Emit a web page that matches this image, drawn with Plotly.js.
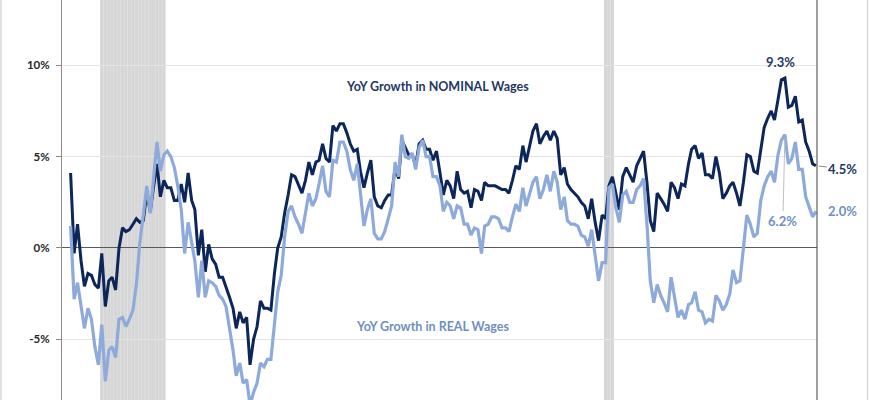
<!DOCTYPE html>
<html>
<head>
<meta charset="utf-8">
<script src="https://cdn.plot.ly/plotly-3.0.1.min.js"></script>
<style>
  html, body { margin: 0; padding: 0; background: #fff; }
  #myDiv { width: 870px; height: 400px; }
</style>
</head>
<body>
<div id="myDiv"></div>
<script>
// monthly YoY growth, first month of the series
var startYear = 2007;
var startMonth = 3;

var nominal = [
  4.1, -0.3, 1.3, -0.7, -2.1, -1.4, -1.5, -2.0, -2.2, -0.3,
  -3.2, -1.8, -1.6, -2.3, 0.0, 1.1, 0.9, 1.0, 1.3, 1.6,
  1.4, 1.5, 3.0, 2.0, 3.3, 4.6, 2.8, 3.7, 3.3, 3.3,
  2.6, 2.6, 3.5, 2.5, 4.1, 2.6, 2.1, -0.4, 1.0, -1.3,
  0.2, -0.6, -0.9, -1.6, -1.6, -2.1, -2.7, -3.3, -4.4, -3.5,
  -4.1, -3.8, -6.4, -5.0, -4.3, -2.9, -3.3, -3.3, -3.4, -1.4,
  0.0, 0.6, 1.9, 2.9, 4.0, 3.9, 3.4, 3.0, 3.7, 4.7,
  4.0, 4.7, 4.8, 5.7, 4.9, 4.7, 6.7, 6.4, 6.8, 6.8,
  6.3, 5.7, 5.3, 5.4, 4.2, 3.3, 4.1, 4.8, 2.8, 2.3,
  2.2, 2.6, 2.9, 2.9, 4.4, 3.8, 5.9, 5.5, 5.1, 5.1,
  4.5, 5.7, 5.9, 5.4, 5.4, 4.8, 5.3, 4.1, 2.9, 3.7,
  3.4, 2.7, 4.2, 3.2, 3.0, 3.1, 2.2, 3.2, 3.1, 2.6,
  3.6, 3.4, 3.4, 3.4, 3.3, 3.2, 3.2, 3.0, 3.7, 4.5,
  4.3, 5.6, 4.7, 5.5, 6.4, 6.8, 5.7, 6.1, 6.4, 5.9,
  6.4, 6.0, 4.0, 4.4, 3.5, 3.2, 3.0, 2.8, 2.5, 2.3,
  1.6, 2.7, 1.4, 0.4, 1.8, 1.6, 3.4, 3.9, 3.0, 2.1,
  3.9, 4.4, 4.0, 3.6, 4.5, 4.9, 5.3, 3.5, 1.5, 0.9,
  3.0, 2.7, 2.4, 2.0, 3.6, 3.3, 2.7, 3.5, 3.4, 4.6,
  5.4, 5.6, 4.9, 5.2, 4.0, 4.0, 3.8, 5.0, 4.1, 2.7,
  3.0, 3.4, 3.6, 3.0, 2.3, 3.6, 5.1, 5.0, 4.2, 4.1,
  5.5, 6.6, 7.1, 7.5, 7.0, 8.2, 9.2, 9.3, 7.7, 7.8,
  8.3, 6.9, 7.0, 5.8, 5.3, 4.6, 4.5
];

var real = [
  1.2, -2.8, -1.9, -3.2, -4.4, -3.3, -3.9, -5.4, -6.4, -4.2,
  -7.3, -5.6, -5.4, -6.0, -3.9, -3.8, -4.3, -3.9, -3.4, -2.0,
  0.3, 1.8, 3.4, 1.9, 3.6, 5.8, 4.2, 5.1, 5.3, 5.0,
  4.4, 3.4, 2.1, -0.3, 1.4, 0.4, -0.7, -2.7, -0.7, -2.7,
  -1.8, -1.9, -2.1, -2.6, -2.8, -3.2, -4.3, -5.6, -7.0, -6.3,
  -7.4, -7.2, -8.6, -7.9, -7.4, -6.3, -6.5, -6.1, -6.1, -4.3,
  -2.4, -1.5, 0.6, 2.0, 2.3, 1.7, 1.3, 0.8, 1.9, 3.0,
  2.3, 2.7, 3.5, 4.5, 3.1, 2.8, 4.8, 4.7, 5.8, 5.8,
  5.3, 4.3, 3.7, 4.6, 3.0, 1.2, 2.1, 2.7, 0.8, 0.5,
  0.5, 0.9, 1.6, 2.3, 4.7, 3.9, 6.2, 5.0, 4.9, 5.2,
  4.3, 5.5, 5.9, 5.0, 5.0, 3.9, 3.9, 3.4, 2.0, 2.5,
  2.3, 1.6, 2.3, 2.2, 1.3, 1.3, 0.7, 1.1, 1.0, -0.3,
  1.2, 1.3, 1.7, 1.7, 1.6, 1.1, 1.1, 0.9, 1.7, 2.4,
  2.0, 3.3, 2.3, 2.9, 3.6, 3.9, 2.7, 3.2, 4.0, 3.1,
  4.2, 3.6, 2.1, 2.8, 1.5, 1.3, 1.3, 1.2, 0.7, 0.6,
  0.1, 1.0, -0.4, -1.8, -0.8, -0.8, 3.3, 3.5, 2.2, 1.4,
  2.9, 3.1, 2.5, 2.5, 3.2, 3.4, 3.8, 1.2, -1.8, -3.0,
  -2.0, -2.6, -3.0, -3.5, -1.6, -2.7, -3.8, -3.4, -3.9, -3.1,
  -3.0, -2.4, -3.4, -3.5, -4.1, -3.9, -4.0, -2.6, -2.9, -3.4,
  -3.1, -2.5, -1.2, -1.9, -1.8, 0.0, 1.8, 1.3, 0.6, 0.8,
  2.6, 3.4, 3.9, 4.2, 3.6, 5.1, 5.9, 6.2, 4.6, 4.9,
  5.8, 4.3, 4.3, 2.8, 2.3, 1.7, 2.0
];

var recessionMonths = [
  '2007-12', '2008-01', '2008-02', '2008-03', '2008-04', '2008-05', '2008-06',
  '2008-07', '2008-08', '2008-09', '2008-10', '2008-11', '2008-12', '2009-01',
  '2009-02', '2009-03', '2009-04', '2009-05', '2009-06',
  '2020-02', '2020-03', '2020-04'
];

var tickValues = [-5, 0, 5, 10];
var tickLabels = ['-5%', '0%', '5%', '10%'];

var peakIndex = nominal.indexOf(Math.max.apply(null, nominal));
var lastIndex = nominal.length - 1;

function monthLabel(k) {
  var m = startMonth - 1 + k;
  var y = startYear + Math.floor(m / 12);
  var mm = (m % 12) + 1;
  return y + '-' + (mm < 10 ? '0' + mm : mm) + '-01';
}

var months = [];
for (var k = 0; k < nominal.length; k++) {
  months.push(monthLabel(k));
}

var DAY = 86400000;
function monthMs(s) {
  var p = s.split('-');
  return Date.UTC(+p[0], +p[1] - 1, 1);
}

var shapes = [];
// recession bands: a pale backing plus one bar per month
var bandGroups = [[recessionMonths[0], '2009-06'], ['2020-02', '2020-04']];
bandGroups.forEach(function (g) {
  shapes.push({
    type: 'rect', xref: 'x', yref: 'paper', layer: 'below',
    x0: monthMs(g[0]) - 15 * DAY, x1: monthMs(g[1]) + 15 * DAY,
    y0: 0, y1: 1, fillcolor: '#e6e6e6', line: {width: 0}
  });
});
recessionMonths.forEach(function (m) {
  shapes.push({
    type: 'rect', xref: 'x', yref: 'paper', layer: 'below',
    x0: monthMs(m) - 13 * DAY, x1: monthMs(m) + 13 * DAY,
    y0: 0, y1: 1, fillcolor: '#d6d6d6', line: {width: 0}
  });
});
// right axis line and outer frame edges
shapes.push({type: 'line', xref: 'paper', yref: 'paper', x0: 1, x1: 1, y0: 0, y1: 1,
  line: {color: '#404040', width: 1}});
shapes.push({type: 'line', xref: 'paper', yref: 'paper', x0: -0.0808, x1: -0.0808, y0: 0, y1: 1,
  line: {color: '#d9d9d9', width: 1.5}});
shapes.push({type: 'line', xref: 'paper', yref: 'paper', x0: 1.0669, x1: 1.0669, y0: 0, y1: 1,
  line: {color: '#d9d9d9', width: 1.5}});

var navy = '#0c2659';
var navyText = '#1f3864';
var lightBlue = '#8eaadb';
var blueText = '#6f8fc2';
var fontFam = 'Lato, "Open Sans", sans-serif';

var traceNominal = {
  x: months, y: nominal, type: 'scatter', mode: 'lines',
  name: 'Nominal', line: {color: navy, width: 3}
};
var traceReal = {
  x: months, y: real, type: 'scatter', mode: 'lines',
  name: 'Real', line: {color: lightBlue, width: 3.2}
};

var layout = {
  width: 870,
  height: 400,
  margin: {l: 62, r: 53, t: 0, b: 0},
  paper_bgcolor: '#fff',
  plot_bgcolor: '#fff',
  showlegend: false,
  font: {family: fontFam, color: '#333'},
  xaxis: {
    type: 'date',
    range: ['2006-12-15', '2025-03-11'],
    showgrid: false,
    zeroline: false,
    showticklabels: false,
    ticks: ''
  },
  yaxis: {
    range: [-8.32, 13.57],
    tickvals: tickValues,
    ticktext: tickLabels,
    tickfont: {family: fontFam, size: 11.5, color: '#262626', weight: 700},
    ticks: 'outside',
    ticklen: 5,
    tickcolor: '#8c8c8c',
    ticklabelstandoff: 4,
    showline: true,
    linecolor: '#8c8c8c',
    linewidth: 1,
    gridcolor: '#e4e4e4',
    gridwidth: 1,
    zeroline: true,
    zerolinecolor: '#595959',
    zerolinewidth: 1
  },
  shapes: shapes,
  annotations: [
    {
      xref: 'paper', yref: 'y', x: 0.4967, y: 8.81,
      text: 'YoY Growth in NOMINAL Wages', showarrow: false,
      font: {family: fontFam, size: 12.5, color: navyText, weight: 700}
    },
    {
      xref: 'paper', yref: 'y', x: 0.491, y: -4.32,
      text: 'YoY Growth in REAL Wages', showarrow: false,
      font: {family: fontFam, size: 12.5, color: blueText, weight: 700}
    },
    {
      x: months[peakIndex], y: nominal[peakIndex],
      text: nominal[peakIndex].toFixed(1) + '%', showarrow: false,
      yanchor: 'bottom', yshift: 6, xshift: -4,
      font: {family: fontFam, size: 13, color: navyText, weight: 700}
    },
    {
      x: months[peakIndex], y: real[peakIndex],
      text: real[peakIndex].toFixed(1) + '%', showarrow: true,
      arrowhead: 0, arrowwidth: 1, arrowcolor: '#bfbfbf',
      ax: -2, ay: 86, standoff: 4,
      font: {family: fontFam, size: 13, color: blueText, weight: 700}
    },
    {
      x: months[lastIndex], y: nominal[lastIndex],
      text: nominal[lastIndex].toFixed(1) + '%', showarrow: true,
      arrowhead: 0, arrowwidth: 1, arrowcolor: '#8c8c8c',
      ax: 27, ay: 3, standoff: 3,
      font: {family: fontFam, size: 13, color: navyText, weight: 700}
    },
    {
      x: months[lastIndex], y: real[lastIndex],
      text: real[lastIndex].toFixed(1) + '%', showarrow: false,
      xanchor: 'left', xshift: 10,
      font: {family: fontFam, size: 13, color: blueText, weight: 700}
    }
  ]
};

Plotly.newPlot('myDiv', [traceNominal, traceReal], layout, {displayModeBar: false, staticPlot: true});
</script>
</body>
</html>
